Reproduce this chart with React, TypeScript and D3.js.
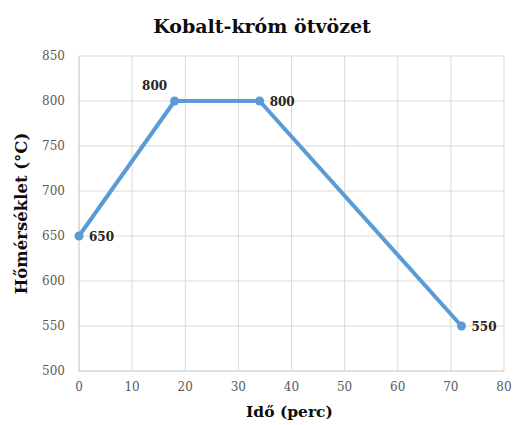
import { useEffect, useRef } from "react";
import * as d3 from "d3";

const times = [0, 18, 34, 72];
const temps = [650, 800, 800, 550];
const labelPos = ["right", "above-left", "right", "right"];
const xTicks = [0, 10, 20, 30, 40, 50, 60, 70, 80];
const yTicks = [500, 550, 600, 650, 700, 750, 800, 850];

const W = 513;
const H = 425;
const M = { top: 56, right: 9, bottom: 54, left: 79 };
const FONT = "'DejaVu Serif', 'Liberation Serif', serif";

export default function App() {
  const svgRef = useRef<SVGSVGElement>(null);

  useEffect(() => {
    const svg = d3.select(svgRef.current);
    svg.selectAll("*").remove();

    const pw = W - M.left - M.right;
    const ph = H - M.top - M.bottom;

    svg.append("rect").attr("width", W).attr("height", H).attr("fill", "#fff");

    const x = d3.scaleLinear().domain([0, 80]).range([0, pw]);
    const y = d3.scaleLinear().domain([500, 850]).range([ph, 0]);

    const g = svg.append("g").attr("transform", `translate(${M.left},${M.top})`);

    // grid
    yTicks.forEach((t) => {
      g.append("line")
        .attr("x1", 0).attr("x2", pw)
        .attr("y1", y(t)).attr("y2", y(t))
        .attr("stroke", t === 500 ? "#bfbfbf" : "#d9d9d9")
        .attr("stroke-width", 1);
    });
    xTicks.forEach((t) => {
      g.append("line")
        .attr("x1", x(t)).attr("x2", x(t))
        .attr("y1", 0).attr("y2", ph)
        .attr("stroke", t === 0 ? "#bfbfbf" : "#d9d9d9")
        .attr("stroke-width", 1);
    });

    // tick labels
    yTicks.forEach((t) => {
      g.append("text")
        .attr("x", -14).attr("y", y(t))
        .attr("text-anchor", "end")
        .attr("dominant-baseline", "central")
        .attr("font-family", FONT)
        .attr("font-size", 12)
        .attr("fill", "#595959")
        .text(t);
    });
    xTicks.forEach((t) => {
      g.append("text")
        .attr("x", x(t)).attr("y", ph + 20)
        .attr("text-anchor", "middle")
        .attr("font-family", FONT)
        .attr("font-size", 12)
        .attr("fill", "#595959")
        .text(t);
    });

    const pts = times.map((t, i) => ({ t, v: temps[i], pos: labelPos[i] }));

    const line = d3.line<{ t: number; v: number }>()
      .x((d) => x(d.t))
      .y((d) => y(d.v));

    g.append("path")
      .datum(pts)
      .attr("d", line)
      .attr("fill", "none")
      .attr("stroke", "#5b9bd5")
      .attr("stroke-width", 4)
      .attr("stroke-linejoin", "round");

    pts.forEach((d) => {
      g.append("circle")
        .attr("cx", x(d.t)).attr("cy", y(d.v))
        .attr("r", 4.5)
        .attr("fill", "#5b9bd5");
      const lbl = g.append("text")
        .attr("font-family", FONT)
        .attr("font-size", 12)
        .attr("font-weight", "bold")
        .attr("fill", "#262626")
        .text(d.v);
      if (d.pos === "right") {
        lbl.attr("x", x(d.t) + 10).attr("y", y(d.v) + 1).attr("dominant-baseline", "central");
      } else {
        lbl.attr("x", x(d.t) - 20).attr("y", y(d.v) - 15).attr("text-anchor", "middle").attr("dominant-baseline", "central");
      }
    });

    // title
    svg.append("text")
      .attr("x", 262).attr("y", 26)
      .attr("text-anchor", "middle")
      .attr("dominant-baseline", "central")
      .attr("font-family", FONT)
      .attr("font-size", 19)
      .attr("font-weight", "bold")
      .attr("fill", "#0d0d0d")
      .text("Kobalt-króm ötvözet");

    // axis titles
    svg.append("text")
      .attr("x", M.left + pw / 2 - 2).attr("y", 411)
      .attr("text-anchor", "middle")
      .attr("dominant-baseline", "central")
      .attr("font-family", FONT)
      .attr("font-size", 15.5)
      .attr("font-weight", "bold")
      .attr("fill", "#0d0d0d")
      .text("Idő (perc)");

    svg.append("text")
      .attr("transform", `translate(21,${M.top + ph / 2}) rotate(-90)`)
      .attr("text-anchor", "middle")
      .attr("dominant-baseline", "central")
      .attr("font-family", FONT)
      .attr("font-size", 16.5)
      .attr("font-weight", "bold")
      .attr("fill", "#0d0d0d")
      .text("Hőmérséklet (°C)");
  }, []);

  return (
    <svg
      ref={svgRef}
      width={W}
      height={H}
      style={{ display: "block", position: "absolute", left: 0, top: 0 }}
    />
  );
}
